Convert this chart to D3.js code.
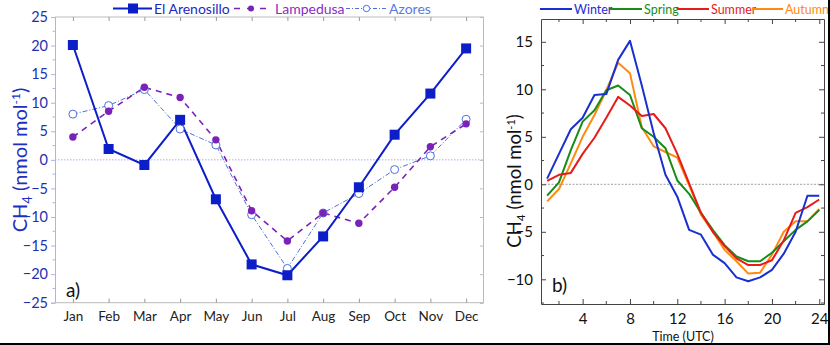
<!DOCTYPE html>
<html><head><meta charset="utf-8">
<script src="https://cdn.jsdelivr.net/npm/d3@7/dist/d3.min.js"></script>
<style>
html,body{margin:0;padding:0;background:#fff;}
svg{display:block;font-family:Lato,"Open Sans",sans-serif;}
</style></head>
<body><svg id="c" width="830" height="345"></svg>
<script>
// ---- data: panel a (monthly) ----
const months = ["Jan","Feb","Mar","Apr","May","Jun","Jul","Aug","Sep","Oct","Nov","Dec"];
const arenosillo = [20.1, 1.9, -0.9, 7.0, -6.9, -18.3, -20.2, -13.4, -4.8, 4.4, 11.6, 19.5];
const lampedusa  = [4.0, 8.5, 12.7, 10.9, 3.5, -8.9, -14.2, -9.3, -11.1, -4.8, 2.3, 6.3];
const azores     = [8.0, 9.5, 12.3, 5.4, 2.6, -9.6, -19.0, -9.3, -5.9, -1.7, 0.7, 7.1];
const yTicksA = [-25,-20,-15,-10,-5,0,5,10,15,20,25];

// ---- data: panel b (diurnal) ----
const hours  = [1,2,3,4,5,6,7,8,9,10,11,12,13,14,15,16,17,18,19,20,21,22,23,24];
const winter = [0.6,3.2,5.8,7.0,9.4,9.5,13.1,15.1,10.4,5.4,1.0,-1.3,-4.8,-5.3,-7.4,-8.3,-9.8,-10.2,-9.8,-9.0,-7.3,-5.0,-1.2,-1.2];
const spring = [-1.2,0.2,3.6,6.6,7.8,9.9,10.4,9.4,5.9,5.0,3.8,0.4,-1.0,-3.0,-4.8,-6.4,-7.6,-8.1,-8.1,-7.2,-6.0,-4.8,-3.9,-2.7];
const summer = [0.35,1.0,1.2,3.2,4.9,7.0,9.2,8.3,7.2,7.4,5.9,3.2,0.1,-3.0,-5.0,-6.5,-7.8,-8.5,-8.5,-8.0,-5.9,-3.0,-2.4,-1.6];
const autumn = [-1.8,-0.5,2.2,5.0,7.3,9.9,12.8,11.7,6.0,4.0,3.4,2.8,-0.1,-3.2,-5.0,-6.9,-8.1,-9.4,-9.3,-7.4,-5.0,-3.9,-3.9,-2.6];
const xTicksB = [4,8,12,16,20,24];
const yTicksB = [-10,-5,0,5,10,15];
const seasons = ["Winter","Spring","Summer","Autumn"];

const svg = d3.select("#c");

// ================= Panel a =================
const ax = d3.scalePoint().domain(months).range([55,484]).padding(0.5);
const ay = d3.scaleLinear().domain([-25,25]).range([302.7,17]);
const gA = svg.append("g");

gA.append("line").attr("x1",55).attr("x2",484).attr("y1",ay(0)).attr("y2",ay(0))
  .attr("stroke","#a9b2ea").attr("stroke-width",1).attr("stroke-dasharray","1.5,1.5");

const yAxA = d3.axisLeft(ay).tickValues(yTicksA).tickSize(4).tickPadding(3);
const gyA = gA.append("g").attr("transform","translate(55,0)").call(yAxA);
gyA.select(".domain").attr("stroke","#aab3ea");
gyA.selectAll(".tick line").attr("stroke","#aab3ea");
gyA.selectAll("text").attr("fill","#1f2fb0").style("font-size","14.5px").style("font-family","Lato");
gyA.selectAll(".minor").data(d3.range(-22.5,25,5)).enter().append("line")
  .attr("x1",0).attr("x2",-2.5).attr("y1",d=>ay(d)).attr("y2",d=>ay(d)).attr("stroke","#aab3ea");

const xAxA = d3.axisBottom(ax).tickSize(-4).tickPadding(9);
const gxA = gA.append("g").attr("transform","translate(0,302.7)").call(xAxA);
gxA.select(".domain").attr("stroke","#bbbbbb").attr("d","M55,0H484");
gxA.selectAll(".tick line").attr("stroke","#999");
gxA.selectAll("text").attr("fill","#222").style("font-size","13.5px").style("font-family","Lato");
const gtA = gA.append("g").attr("transform","translate(0,17)").call(d3.axisTop(ax).tickSize(-4).tickFormat(""));
gtA.select(".domain").attr("stroke","#bbbbbb").attr("d","M55,0H484");
gtA.selectAll(".tick line").attr("stroke","#999");
const grA = gA.append("g").attr("transform","translate(483,0)").call(d3.axisRight(ay).tickValues(yTicksA).tickSize(-3).tickFormat(""));
grA.select(".domain").attr("stroke","#bbbbbb");
grA.selectAll(".tick line").attr("stroke","#bbb");

const yl = gA.append("text").attr("transform","translate(27,160) rotate(-90)").attr("text-anchor","middle")
  .attr("fill","#1f2fc0").style("font-size","20px").style("font-family","Lato");
yl.append("tspan").text("CH");
yl.append("tspan").text("4").attr("dy",5).style("font-size","13px");
yl.append("tspan").text(" (nmol mol").attr("dy",-5);
yl.append("tspan").text("-1").attr("dy",-7).style("font-size","12px");
yl.append("tspan").text(")").attr("dy",7);

gA.append("text").attr("x",66).attr("y",297).text("a)").style("font-size","19px").attr("fill","#111");

const lineA = d3.line().x((d,i)=>ax(months[i])).y(d=>ay(d));
const cAr = "#0c1ec8", cLa = "#7a22b8", cAz = "#4f6fdc";
gA.append("path").datum(azores).attr("d",lineA).attr("fill","none").attr("stroke",cAz).attr("stroke-width",1).attr("stroke-dasharray","5,2,1,2");
gA.append("path").datum(lampedusa).attr("d",lineA).attr("fill","none").attr("stroke",cLa).attr("stroke-width",1.6).attr("stroke-dasharray","6,5");
gA.append("path").datum(arenosillo).attr("d",lineA).attr("fill","none").attr("stroke",cAr).attr("stroke-width",2);
gA.selectAll(".az").data(azores).enter().append("circle").attr("cx",(d,i)=>ax(months[i])).attr("cy",d=>ay(d)).attr("r",4)
  .attr("fill","#fff").attr("stroke",cAz).attr("stroke-width",1);
gA.selectAll(".la").data(lampedusa).enter().append("circle").attr("cx",(d,i)=>ax(months[i])).attr("cy",d=>ay(d)).attr("r",3.7)
  .attr("fill",cLa);
gA.selectAll(".ar").data(arenosillo).enter().append("rect").attr("x",(d,i)=>ax(months[i])-5).attr("y",d=>ay(d)-5)
  .attr("width",10).attr("height",10).attr("fill",cAr);

// legend a
const lgA = gA.append("g");
const ly = 8.5, lt = 14;
lgA.append("line").attr("x1",113).attr("x2",152).attr("y1",ly).attr("y2",ly).attr("stroke",cAr).attr("stroke-width",2);
lgA.append("rect").attr("x",128).attr("y",ly-5).attr("width",10).attr("height",10).attr("fill",cAr);
lgA.append("text").attr("x",154).attr("y",lt).text("El Arenosillo").attr("fill","#1a2cc0").style("font-size","14px");
lgA.append("line").attr("x1",234).attr("x2",268).attr("y1",ly).attr("y2",ly).attr("stroke",cLa).attr("stroke-width",1.6).attr("stroke-dasharray","6,7");
lgA.append("circle").attr("cx",251).attr("cy",ly).attr("r",3).attr("fill",cLa);
lgA.append("text").attr("x",275).attr("y",lt).text("Lampedusa").attr("fill","#8a2cc4").style("font-size","14px");
lgA.append("line").attr("x1",346).attr("x2",387).attr("y1",ly).attr("y2",ly).attr("stroke",cAz).attr("stroke-width",1).attr("stroke-dasharray","4,2,1,2");
lgA.append("circle").attr("cx",366.5).attr("cy",ly).attr("r",3.2).attr("fill","#fff").attr("stroke",cAz);
lgA.append("text").attr("x",389).attr("y",lt).text("Azores").attr("fill","#5a7ae2").style("font-size","14px");

// ================= Panel b =================
const bx = d3.scaleLinear().domain([0.48,24.4]).range([541,824]);
const by = d3.scaleLinear().domain([-12.6,17.4]).range([304,19]);
const gB = svg.append("g");
gB.append("line").attr("x1",541).attr("x2",824).attr("y1",by(0)).attr("y2",by(0))
  .attr("stroke","#888").attr("stroke-width",0.8).attr("stroke-dasharray","2,1.5");

const axisCol = "#444";
function styleAx(g){ g.select(".domain").attr("stroke",axisCol); g.selectAll(".tick line").attr("stroke",axisCol); }
const minorX = d3.range(2,25,4);
const minorY = d3.range(-12.5,17.5,5);
const gxB = gB.append("g").attr("transform","translate(0,304)").call(d3.axisBottom(bx).tickValues(xTicksB).tickSize(-5).tickPadding(9).tickSizeOuter(0));
styleAx(gxB); gxB.selectAll("text").attr("fill","#111").style("font-size","15px").style("font-family","Lato");
const gtB = gB.append("g").attr("transform","translate(0,19)").call(d3.axisTop(bx).tickValues(xTicksB).tickSize(-5).tickFormat("").tickSizeOuter(0));
styleAx(gtB);
const gyB = gB.append("g").attr("transform","translate(541,0)").call(d3.axisLeft(by).tickValues(yTicksB).tickSize(-5).tickPadding(8).tickSizeOuter(0));
styleAx(gyB); gyB.selectAll("text").attr("fill","#111").style("font-size","15px").style("font-family","Lato");
const grB = gB.append("g").attr("transform","translate(824,0)").call(d3.axisRight(by).tickValues(yTicksB).tickSize(-5).tickFormat("").tickSizeOuter(0));
styleAx(grB);
minorX.forEach(v=>{
  gB.append("line").attr("x1",bx(v)).attr("x2",bx(v)).attr("y1",304).attr("y2",301).attr("stroke",axisCol);
  gB.append("line").attr("x1",bx(v)).attr("x2",bx(v)).attr("y1",19).attr("y2",22).attr("stroke",axisCol);
});
minorY.forEach(v=>{
  gB.append("line").attr("x1",541).attr("x2",544).attr("y1",by(v)).attr("y2",by(v)).attr("stroke",axisCol);
  gB.append("line").attr("x1",824).attr("x2",821).attr("y1",by(v)).attr("y2",by(v)).attr("stroke",axisCol);
});

gB.append("text").attr("x",683).attr("y",341).attr("text-anchor","middle").text("Time (UTC)").style("font-size","12.5px").attr("fill","#111");
const yl2 = gB.append("text").attr("transform","translate(521,181) rotate(-90)").attr("text-anchor","middle")
  .attr("fill","#111").style("font-size","18.5px");
yl2.append("tspan").text("CH");
yl2.append("tspan").text("4").attr("dy",4).style("font-size","12px");
yl2.append("tspan").text(" (nmol mol").attr("dy",-4);
yl2.append("tspan").text("-1").attr("dy",-6).style("font-size","11px");
yl2.append("tspan").text(")").attr("dy",6);
gB.append("text").attr("x",552).attr("y",292).text("b)").style("font-size","19px").attr("fill","#111");

const colsB = ["#1a2fd0","#178c17","#e81a1a","#ff8a12"];
const serB = [winter,spring,summer,autumn];
const lineB = d3.line().x((d,i)=>bx(hours[i])).y(d=>by(d));
[3,1,2,0].forEach(k=>{
  gB.append("path").datum(serB[k]).attr("d",lineB).attr("fill","none").attr("stroke",colsB[k]).attr("stroke-width",2).attr("stroke-linejoin","round");
});

const lgPos = [[540,572,574],[610,642,644],[677,709,711],[752,783,785]];
seasons.forEach((s,k)=>{
  gB.append("line").attr("x1",lgPos[k][0]).attr("x2",lgPos[k][1]).attr("y1",9).attr("y2",9).attr("stroke",colsB[k]).attr("stroke-width",2);
  gB.append("text").attr("x",lgPos[k][2]).attr("y",14).text(s).attr("fill",colsB[k]).style("font-size","12.5px");
});

svg.append("line").attr("x1",0).attr("x2",830).attr("y1",344).attr("y2",344).attr("stroke","#000").attr("stroke-width",2);
svg.append("line").attr("x1",829).attr("x2",829).attr("y1",0).attr("y2",345).attr("stroke","#000").attr("stroke-width",2);
</script></body></html>
